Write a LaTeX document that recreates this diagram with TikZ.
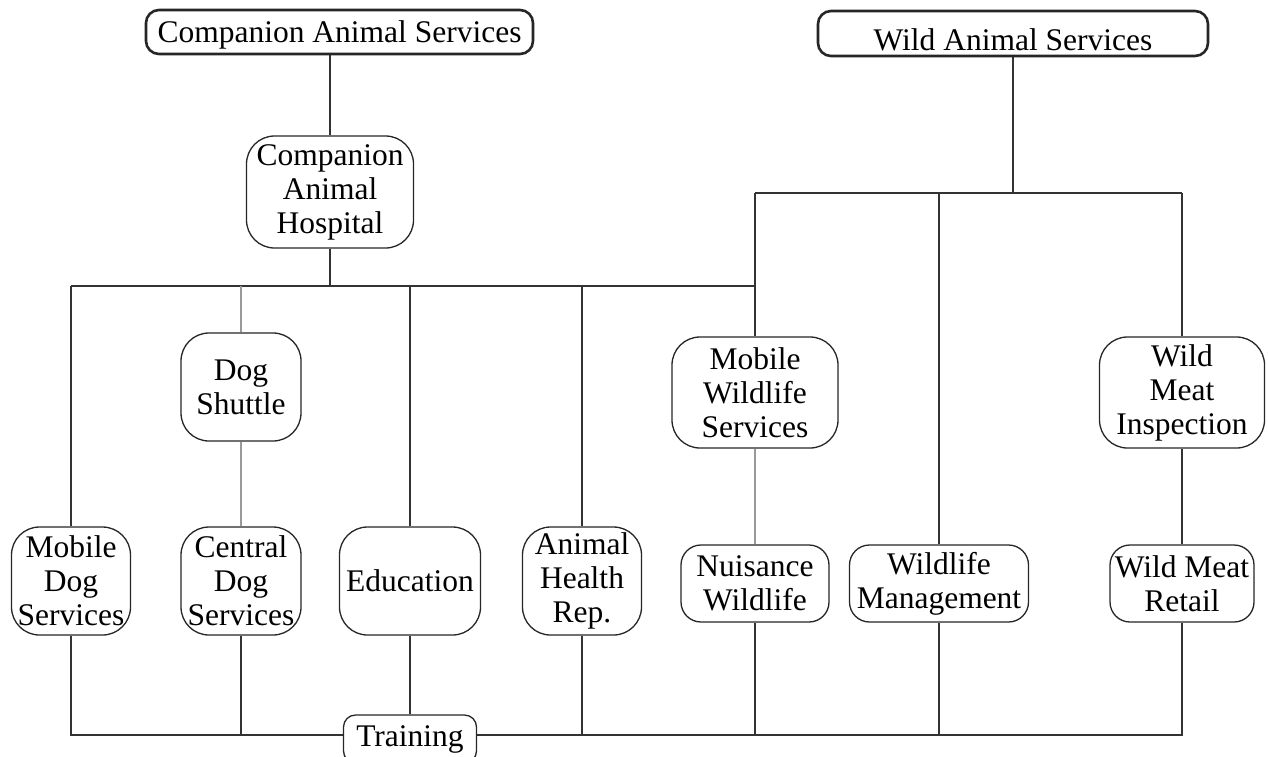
\documentclass[tikz,border=0pt]{standalone}
\usepackage{fontspec}
\setmainfont{Liberation Serif}
\usetikzlibrary{backgrounds}
\begin{document}
\begin{tikzpicture}[x=1pt,y=-1pt,
  box/.style={draw=black!85,line width=1.3pt,rounded corners=28pt,fill=white,align=center,inner sep=0pt,
    font=\fontsize{31.5}{34}\selectfont},
  topbox/.style={box,line width=2.6pt,rounded corners=13pt},
  flat/.style={box,rounded corners=20pt},
  conn/.style={draw=black!80,line width=1.3pt},
  lconn/.style={draw=black!40,line width=1.3pt}]
\useasboundingbox (0,0) rectangle (1268,756);
\clip (0,0) rectangle (1268,756);
% bus coordinates
\coordinate (bus1) at (0,286);
\coordinate (bus2) at (0,193);
\coordinate (bus3) at (0,735);
% nodes
\node[topbox,minimum width=387pt,minimum height=44pt,text height=27.4pt,text depth=6.8pt] (cas) at (339.5,32) {Companion Animal Services};
\node[topbox,minimum width=390pt,minimum height=45pt,text height=33.5pt,text depth=0pt] (was) at (1013,33.5) {Wild Animal Services};
\node[box,minimum width=167pt,minimum height=112pt] (cah) at (330,192) {Companion\\Animal\\Hospital};
\node[box,minimum width=120pt,minimum height=108pt] (ds) at (241,387) {Dog\\Shuttle};
\node[box,minimum width=166pt,minimum height=111pt] (mws) at (755,392.5) {Mobile\\Wildlife\\Services};
\node[box,minimum width=165pt,minimum height=111pt] (wmi) at (1182,392.5) {Wild\\Meat\\Inspection};
\node[box,minimum width=119pt,minimum height=108pt] (mds) at (71,581) {Mobile\\Dog\\Services};
\node[box,minimum width=120pt,minimum height=108pt] (cds) at (241,581) {Central\\Dog\\Services};
\node[box,minimum width=141pt,minimum height=108pt] (edu) at (410,581) {Education};
\node[box,minimum width=119pt,minimum height=108pt] (ahr) at (582,581) {Animal\\Health\\Rep.};
\node[flat,minimum width=148pt,minimum height=77pt] (nw) at (755,583.5) {Nuisance\\Wildlife};
\node[flat,minimum width=179pt,minimum height=77pt] (wm) at (939,583.5) {Wildlife\\Management};
\node[flat,minimum width=144pt,minimum height=77pt] (wmr) at (1182,583.5) {Wild Meat\\Retail};
\node[flat,rounded corners=12pt,minimum width=133pt,minimum height=48pt] (tr) at (410,739) {Training};
% connectors
\begin{pgfonlayer}{background}
\draw[conn] (cas.south -| cah.north) -- (cah.north);
\draw[conn] (cah.south) -- (cah.south |- bus1);
\draw[conn] (mds.north |- bus1) -- (mws.north |- bus1);
\draw[conn] (mds.north |- bus1) -- (mds.north);
\draw[lconn] (ds.north |- bus1) -- (ds.north);
\draw[lconn] (ds.south) -- (cds.north);
\draw[conn] (edu.north |- bus1) -- (edu.north);
\draw[conn] (ahr.north |- bus1) -- (ahr.north);
\draw[conn] (was.south) -- (was.south |- bus2);
\draw[conn] (mws.north |- bus2) -- (wmi.north |- bus2);
\draw[conn] (mws.north |- bus2) -- (mws.north);
\draw[conn] (wm.north |- bus2) -- (wm.north);
\draw[conn] (wmi.north |- bus2) -- (wmi.north);
\draw[lconn] (mws.south) -- (nw.north);
\draw[conn] (wmi.south) -- (wmr.north);
\draw[conn] (mds.south) -- (mds.south |- bus3) -- (wmr.south |- bus3) -- (wmr.south);
\draw[conn] (cds.south) -- (cds.south |- bus3);
\draw[conn] (edu.south) -- (edu.south |- tr.north);
\draw[conn] (ahr.south) -- (ahr.south |- bus3);
\draw[conn] (nw.south) -- (nw.south |- bus3);
\draw[conn] (wm.south) -- (wm.south |- bus3);
\end{pgfonlayer}
\end{tikzpicture}
\end{document}
